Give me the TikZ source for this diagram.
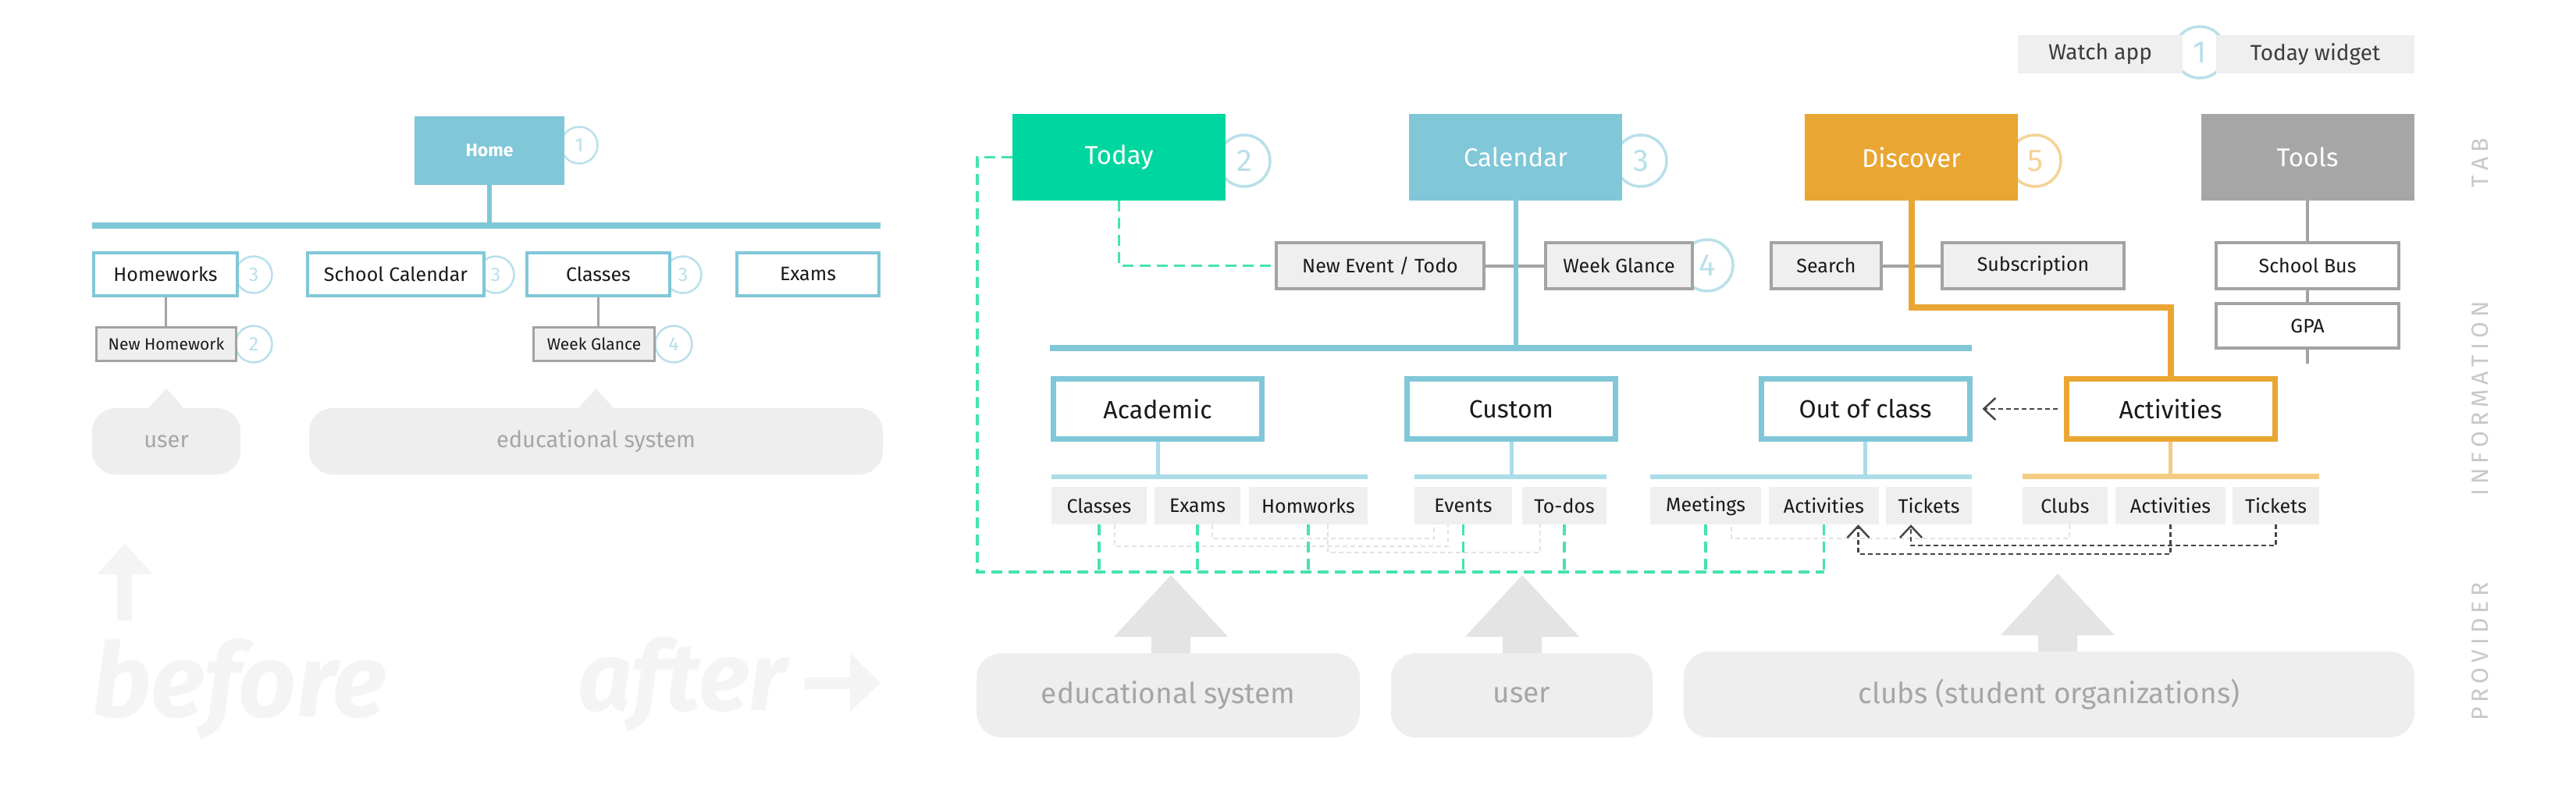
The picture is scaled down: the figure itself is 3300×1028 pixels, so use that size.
\documentclass[tikz,border=0pt]{standalone}
\usepackage{fontspec}
\setmainfont{Fira Sans}
\newfontfamily\bigfont{Fira Sans}[FakeStretch=0.98]
\usetikzlibrary{arrows.meta}
\definecolor{cblue}{RGB}{128,199,216}
\definecolor{cbluel}{RGB}{170,221,232}
\definecolor{cring}{RGB}{184,224,234}
\definecolor{cgreen}{RGB}{0,214,159}
\definecolor{cgdash}{RGB}{70,226,178}
\definecolor{corange}{RGB}{234,166,50}
\definecolor{corangel}{RGB}{244,203,130}
\definecolor{cringo}{RGB}{245,210,150}
\definecolor{ctools}{RGB}{166,166,166}
\definecolor{gfill}{RGB}{239,239,239}
\definecolor{gborder}{RGB}{163,163,163}
\definecolor{ctext}{RGB}{26,26,26}
\definecolor{cbub}{RGB}{238,238,238}
\definecolor{cbubtext}{RGB}{166,166,166}
\definecolor{carrow}{RGB}{228,228,228}
\definecolor{cghost}{RGB}{244,244,244}
\definecolor{clabel}{RGB}{200,200,200}
\definecolor{cdark}{RGB}{70,70,70}
\definecolor{cfaint}{RGB}{226,226,226}
\newcommand\fsz[1]{\fontsize{#1}{#1}\selectfont}
\newcommand\ls{\hspace{6pt}}
\newcommand\blockarrow[1]{\fill[carrow] (#1) ++(-25,5) -- ++(0,-26) -- ++(-48,0) -- ++(73,-79) -- ++(73,79) -- ++(-48,0) -- ++(0,26) -- cycle;}
\tikzset{
 tabbox/.style={rectangle,inner sep=0pt,outer sep=0pt,minimum width=273pt,minimum height=111pt,text=white,font=\fsz{33}},
 ring/.style={circle,draw=cring,line width=3.5pt,fill=white,minimum size=66pt,inner sep=0pt,text=cring,font=\fsz{40}},
 ringo/.style={ring,draw=cringo,text=cringo},
 sring/.style={circle,draw=cring,line width=2.5pt,fill=white,minimum size=47pt,inner sep=0pt,text=cring,font=\fsz{25}},
 graybox/.style={rectangle,draw=gborder,fill=gfill,line width=4pt,inner sep=0pt,minimum height=59pt,text=ctext,font=\fsz{25}},
 whitebox/.style={graybox,fill=white},
 midbox/.style={rectangle,draw=cblue,fill=white,line width=7pt,inner sep=0pt,minimum width=267pt,minimum height=77pt,text=ctext,font=\fsz{32}},
 subitem/.style={rectangle,fill=gfill,inner sep=0pt,minimum height=48pt,text=ctext,font=\fsz{25}},
 lbox/.style={rectangle,draw=cblue,fill=white,line width=4pt,inner sep=0pt,minimum height=55pt,text=ctext,font=\fsz{25}},
 lsub/.style={rectangle,draw=gborder,fill=gfill,line width=3pt,inner sep=0pt,minimum height=43pt,text=ctext,font=\fsz{21}},
 topbox/.style={rectangle,fill=gfill,inner sep=0pt,minimum height=49pt,text=ctext!85,font=\fsz{28}},
 bubble/.style={rectangle,rounded corners=32pt,fill=cbub,inner sep=0pt,text=cbubtext},
 lbl/.style={rotate=90,text=clabel,font=\fsz{30},inner sep=0pt},
 gdash/.style={cgdash,line width=3.5pt,dash pattern=on 14pt off 8pt},
 ddash/.style={cdark,line width=2.5pt,dash pattern=on 6pt off 4pt},
 fdash/.style={cfaint,line width=2pt,dash pattern=on 6pt off 4pt},
 barbtip/.style={-{Straight Barb[length=15pt,width=28pt,line width=2.5pt]}},
 gline/.style={gborder,line width=4pt},
}
\begin{document}
\begin{tikzpicture}[x=1pt,y=-1pt]
\fill[white] (0,0) rectangle (3300,1028);
\useasboundingbox (0,0) rectangle (3300,1028);

% ---------- ghost "before / after" ----------
\fill[cghost] (160,697) -- (196,736) -- (169,736) -- (169,795) -- (150,795) -- (150,736) -- (124,736) -- cycle;
\fill[cghost] (1128,875) -- (1089,837) -- (1089,868) -- (1031,868) -- (1031,883) -- (1089,883) -- (1089,912) -- cycle;
\node[anchor=base west,inner sep=0pt,text=cghost,font=\bigfont\bfseries\itshape\fsz{132}] (before) at (118,918) {before};
\node[anchor=base west,inner sep=0pt,text=cghost,font=\bigfont\bfseries\itshape\fsz{124}] (after) at (740,910) {after};

% ---------- left (before) ----------
\node[sring] (lr1) at (742,186) {1};
\node[sring] (lr3a) at (325,352) {3};
\node[sring] (lr3b) at (635,352) {3};
\node[sring] (lr3c) at (875,352) {3};
\node[sring] (lr2) at (325,441) {2};
\node[sring] (lr4) at (863,441) {4};

\node[rectangle,fill=cblue,minimum width=192pt,minimum height=88pt,inner sep=0pt,text=white,font=\fsz{23}\bfseries] (Home) at (627,193) {Home};
\coordinate (lbL) at (118,288.5);
\coordinate (lbR) at (1128,288.5);
\draw[cblue,line width=6pt] (Home.south) -- (Home.south |- lbL);
\draw[cblue,line width=8pt] (lbL) -- (lbR);

\node[lbox,minimum width=184pt] (lHomeworks) at (212,351.5) {Homeworks};
\node[lbox,minimum width=226pt] (lSchoolCal) at (507,351.5) {School Calendar};
\node[lbox,minimum width=183pt] (lClasses) at (766.5,351.5) {Classes};
\node[lbox,minimum width=182pt] (lExams) at (1035,351.5) {Exams};
\node[lsub,minimum width=179pt] (lNewHw) at (213,441) {New Homework};
\node[lsub,minimum width=155pt] (lWeek) at (761,441) {Week Glance};
\draw[gborder,line width=3pt] (lHomeworks.south) -- (lHomeworks.south |- lNewHw.north);
\draw[gborder,line width=3pt] (lClasses.south) -- (lClasses.south |- lWeek.north);

\node[bubble,rounded corners=30pt,minimum width=190pt,minimum height=85pt,font=\fsz{29}] (lUser) at (213,565.5) {user};
\node[bubble,rounded corners=30pt,minimum width=735pt,minimum height=85pt,font=\fsz{29}] (lEdu) at (763.5,565.5) {educational system};
\fill[cbub] (lUser.north) ++(-25,3) -- ++(25,-28) -- ++(25,28) -- cycle;
\fill[cbub] (lEdu.north) ++(-25,3) -- ++(25,-28) -- ++(25,28) -- cycle;

% ---------- top right legend ----------
\node[ring] (r1w) at (2818,67) {1};
\node[topbox,minimum width=211pt] (Watch) at (2690.5,69.5) {Watch app};
\node[topbox,minimum width=254pt] (Widget) at (2966,69.5) {Today widget};

% ---------- tabs ----------
\node[ring] (r2) at (1594,206) {2};
\node[ring] (r3) at (2102,206) {3};
\node[ringo] (r5) at (2607,206) {5};
\node[ring] (r4) at (2187,340) {4};
\node[tabbox,fill=cgreen] (Today) at (1433.5,201.5) {Today};
\node[tabbox,fill=cblue] (Calendar) at (1941.5,201.5) {Calendar};
\node[tabbox,fill=corange] (Discover) at (2448.5,201.5) {Discover};
\node[tabbox,fill=ctools] (Tools) at (2956,201.5) {Tools};

% ---------- second row ----------
\node[graybox,minimum width=266pt] (NewEvent) at (1768,340.5) {New Event / Todo};
\node[graybox,minimum width=188pt] (WeekGlance) at (2074,340.5) {Week Glance};
\node[graybox,minimum width=141pt] (Search) at (2339.5,340.5) {Search};
\node[graybox,minimum width=233pt] (Subscription) at (2604.5,340.5) {Subscription};
\node[whitebox,minimum width=234pt] (SchoolBus) at (2956,340.5) {School Bus};
\node[whitebox,minimum width=234pt,minimum height=57pt] (GPA) at (2956,417.5) {GPA};

\draw[gline] (NewEvent.east) -- (WeekGlance.west);
\draw[gline] (Search.east) -- (Subscription.west);
\draw[gline] (Tools.south) -- (SchoolBus.north);
\draw[gline] (SchoolBus.south) -- (GPA.north);
\coordinate (gpaEnd) at (2956,466);
\draw[gline] (GPA.south) -- (gpaEnd);

\coordinate (mbL) at (1345,445.5);
\coordinate (mbR) at (2526,445.5);
\draw[cblue,line width=6pt] (Calendar.south) -- (Calendar.south |- mbL);
\draw[cblue,line width=8pt] (mbL) -- (mbR);

% ---------- information boxes ----------
\node[midbox] (Academic) at (1483,524) {Academic};
\node[midbox] (Custom) at (1936,524) {Custom};
\node[midbox] (OutClass) at (2389.5,524) {Out of class};
\node[midbox,draw=corange] (Activities) at (2780.5,524) {Activities};
\draw[corange,line width=8pt] (Discover.south) -- ++(0,137) -| (Activities.north);
\draw[ddash,barbtip,shorten <=8pt,shorten >=13pt] (Activities.west) -- (OutClass.east);

\coordinate (acL) at (1347,610.5); \coordinate (acR) at (1752,610.5);
\coordinate (cuL) at (1812,610.5); \coordinate (cuR) at (2058,610.5);
\coordinate (ocL) at (2114,610.5); \coordinate (ocR) at (2526,610.5);
\coordinate (avL) at (2591,610.5); \coordinate (avR) at (2971,610.5);
\draw[cbluel,line width=5pt] (Academic.south) -- (Academic.south |- acL);
\draw[cbluel,line width=5pt] (Custom.south) -- (Custom.south |- cuL);
\draw[cbluel,line width=5pt] (OutClass.south) -- (OutClass.south |- ocL);
\draw[corangel,line width=5pt] (Activities.south) -- (Activities.south |- avL);
\draw[cbluel,line width=6pt] (acL) -- (acR);
\draw[cbluel,line width=6pt] (cuL) -- (cuR);
\draw[cbluel,line width=6pt] (ocL) -- (ocR);
\draw[corangel,line width=7pt] (avL) -- (avR);

\node[subitem,minimum width=122pt] (Classes) at (1408,648) {Classes};
\node[subitem,minimum width=110pt] (Exams) at (1534,648) {Exams};
\node[subitem,minimum width=152pt] (Homworks) at (1676,648) {Homworks};
\node[subitem,minimum width=125pt] (Events) at (1874.5,648) {Events};
\node[subitem,minimum width=108pt] (Todos) at (2004,648) {To-dos};
\node[subitem,minimum width=142pt] (Meetings) at (2185,648) {Meetings};
\node[subitem,minimum width=141pt] (Act1) at (2336.5,648) {Activities};
\node[subitem,minimum width=110pt] (Tickets1) at (2471,648) {Tickets};
\node[subitem,minimum width=109pt] (Clubs) at (2645.5,648) {Clubs};
\node[subitem,minimum width=141pt] (Act2) at (2780.5,648) {Activities};
\node[subitem,minimum width=111pt] (Tickets2) at (2915.5,648) {Tickets};

% faint links
\draw[fdash] ([xshift=20pt]Classes.south) -- ++(0,28) -| ([xshift=-19.5pt]Events.south);
\draw[fdash] ([xshift=19pt]Exams.south) -- ++(0,18) -| ([xshift=-37.5pt]Events.south);
\draw[fdash] ([xshift=25pt]Homworks.south) -- ++(0,36) -| ([xshift=-31pt]Todos.south);
\draw[fdash] ([xshift=5pt]Clubs.south) -- ++(0,18) -| ([xshift=33pt]Meetings.south);

% dark dashed links
\draw[ddash,barbtip] (Act2.south) -- ++(0,38) -| ([xshift=44pt]Act1.south);
\draw[ddash,barbtip] (Tickets2.south) -- ++(0,27) -| ([xshift=-23pt]Tickets1.south);

% ---------- provider arrows and bubbles ----------
\coordinate (aEdu) at (1500,837);
\coordinate (aUser) at (1950,837);
\coordinate (aClubs) at (2636,835);
\blockarrow{aEdu}
\blockarrow{aUser}
\blockarrow{aClubs}
\node[bubble,minimum width=491pt,minimum height=108pt,font=\fsz{37}] (bEdu) at (1496.5,891) {educational system};
\node[bubble,minimum width=335pt,minimum height=108pt,font=\fsz{37}] (bUser) at (1949.5,891) {user};
\node[bubble,minimum width=936pt,minimum height=110pt,font=\fsz{37}] (bClubs) at (2625,890) {clubs (student organizations)};

% green dashed provider links
\coordinate (gbot) at (0,733);
\draw[gdash] (Today.south) |- (NewEvent.west);
\draw[gdash] (Today.west) -- ++(-45,0) |- (Act1.south |- gbot);
\foreach \n in {Classes,Exams,Homworks,Events,Todos,Meetings,Act1} {\draw[gdash] (\n.south) -- (\n.south |- gbot);}

% ---------- side labels ----------
\node[lbl] (labTab) at (3177,209) {T\ls A\ls B};
\node[lbl] (labInfo) at (3177,511) {I\ls N\ls F\ls O\ls R\ls M\ls A\ls T\ls I\ls O\ls N};
\node[lbl] (labProv) at (3177,835) {P\ls R\ls O\ls V\ls I\ls D\ls E\ls R};
\end{tikzpicture}
\end{document}
